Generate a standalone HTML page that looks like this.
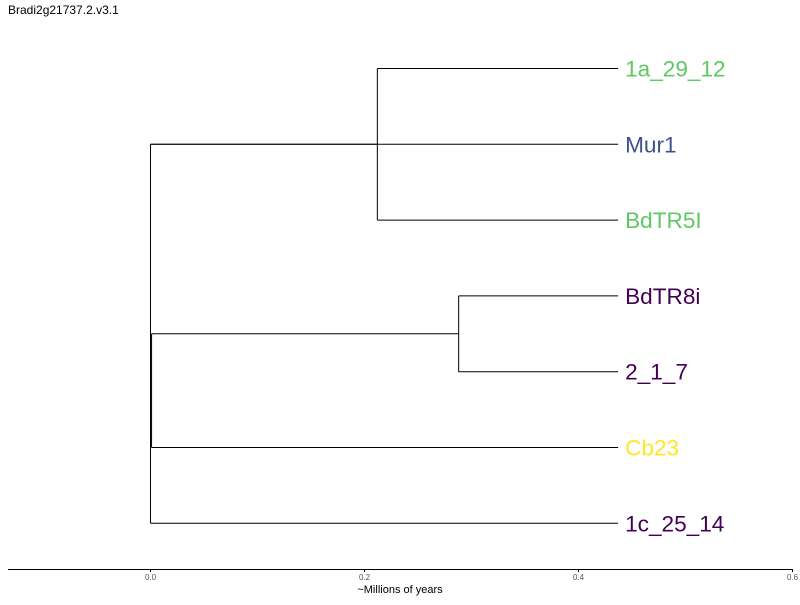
<!DOCTYPE html>
<html><head><meta charset="utf-8"><style>
body{margin:0;background:#fff;font-family:"Liberation Sans",sans-serif}
</style></head><body>
<svg width="800" height="600" xmlns="http://www.w3.org/2000/svg">
<text x="8" y="14" font-size="12" fill="#000">Bradi2g21737.2.v3.1</text>
<g id="tree"></g>
<g id="axis"></g>
</svg>
<script>
const leafNames=["1a_29_12","Mur1","BdTR5I","BdTR8i","2_1_7","Cb23","1c_25_14"];
const leafColors=["#5ec962","#3b528b","#5ec962","#440154","#440154","#fde725","#440154"];
const leafDepth=[0.437,0.437,0.437,0.437,0.437,0.437,0.437];
const parentDepth=[0.212,0.0,0.212,0.288,0.288,0.001,0.0];
const innerNodes=[{depth:0.212,from:0,to:2,parent:0.0},{depth:0.288,from:3,to:4,parent:0.001}];
const tickVals=[0.0,0.2,0.4,0.6];
const tickLabels=["0.0","0.2","0.4","0.6"];
const ns="http://www.w3.org/2000/svg";
const xs=v=>150.5+v*1070;
const ys=i=>68.5+i*75.8;
function ln(g,x1,y1,x2,y2,name,w){const l=document.createElementNS(ns,'line');
l.setAttribute('x1',x1);l.setAttribute('y1',y1);l.setAttribute('x2',x2);l.setAttribute('y2',y2);
l.setAttribute('stroke','#000');l.setAttribute('stroke-width',w||1);


g.appendChild(l);return l;}
const tree=document.getElementById('tree');
leafNames.forEach((n,i)=>{
 ln(tree,xs(parentDepth[i]),ys(i),xs(leafDepth[i]),ys(i),'branch-'+n);
 const t=document.createElementNS(ns,'text');
 t.setAttribute('x',xs(leafDepth[i])+7);t.setAttribute('y',ys(i)+8);
 t.setAttribute('font-size','22.6');t.setAttribute('fill',leafColors[i]);
 t.textContent=n;
 
 
 tree.appendChild(t);
});
innerNodes.forEach((nd,k)=>{
 ln(tree,xs(nd.depth),ys(nd.from),xs(nd.depth),ys(nd.to),'clade-node');
 const mid=(ys(nd.from)+ys(nd.to))/2;
 ln(tree,xs(nd.parent),mid,xs(nd.depth),mid,'clade-stem');
});
ln(tree,xs(0),ys(1),xs(0),ys(6),'root-node');
ln(tree,xs(0.001),(ys(3)+ys(4))/2,xs(0.001),ys(5),'sub-root-node');
const ax=document.getElementById('axis');
ln(ax,8,569.5,792,569.5,'axis-line');
tickVals.forEach((v,i)=>{
 ln(ax,xs(v),569,xs(v),572,'tick');
 const t=document.createElementNS(ns,'text');
 t.setAttribute('x',xs(v));t.setAttribute('y',580);t.setAttribute('font-size','8');
 t.setAttribute('text-anchor','middle');t.setAttribute('fill','#555');
 t.textContent=tickLabels[i];
 
 
 ax.appendChild(t);
});
const at=document.createElementNS(ns,'text');
at.setAttribute('x',400);at.setAttribute('y',593);at.setAttribute('font-size','11');
at.setAttribute('text-anchor','middle');at.textContent='~Millions of years';


ax.appendChild(at);
</script>
</body></html>
